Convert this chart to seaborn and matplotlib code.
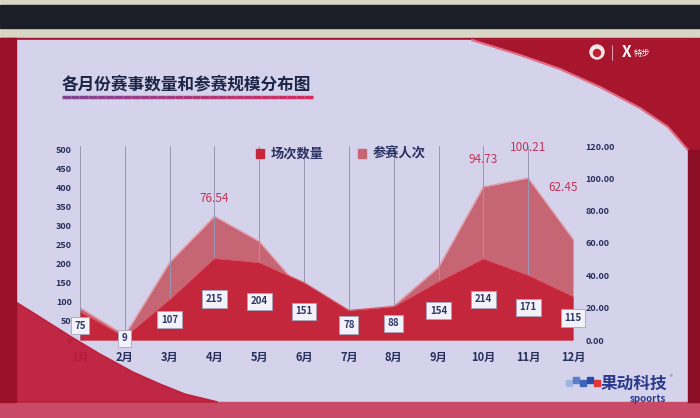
import numpy as np
import pandas as pd
import seaborn as sns
import matplotlib.pyplot as plt
from matplotlib.patches import Rectangle, Polygon, Circle, Patch

# data
months = ['1月', '2月', '3月', '4月', '5月', '6月', '7月', '8月', '9月', '10月', '11月', '12月']
event_counts = [75, 9, 107, 215, 204, 151, 78, 88, 154, 214, 171, 115]
participants = [20, 3, 48, 76.54, 61, 29, 18, 21, 45, 94.73, 100.21, 62.45]
labelled_months = ['4月', '10月', '11月', '12月']

navy = '#262f5c'
dark_red = '#c4263b'
light_red = '#c66574'

sns.set_theme(style='white')
plt.rcParams['font.family'] = ['Noto Sans CJK SC', 'DejaVu Sans']

fig = plt.figure(figsize=(7, 4.18), dpi=100)

# ---- slide / photo background (pixel coords) ----
bg = fig.add_axes([0, 0, 1, 1], zorder=-2)
bg.set_xlim(0, 700)
bg.set_ylim(418, 0)
bg.axis('off')
bg.add_patch(Rectangle((0, 0), 700, 40, color='#d9d6c6'))
bg.add_patch(Rectangle((0, 5), 700, 23, color='#1c1e27'))
bg.add_patch(Rectangle((0, 38), 700, 366, color='#a01230'))
bg.add_patch(Rectangle((16, 40), 672, 362, color='#d5d3ec'))
bg.add_patch(Rectangle((0, 402), 700, 16, color='#c94a66'))
swoosh_tr = [(472, 40), (520, 55), (560, 69), (600, 87), (640, 108), (668, 127), (688, 150),
             (700, 152), (700, 40)]
bg.add_patch(Polygon(swoosh_tr, closed=True, color='#a8162e'))
bg.plot([472, 520, 560, 600, 640, 668, 688], [40, 55, 69, 87, 108, 127, 150], color='#e07088', lw=1.5)
bg.add_patch(Circle((597, 52), 7, color='#f2e6e6'))
bg.add_patch(Circle((597, 53), 3.5, color='#c02030'))
bg.plot([612, 612], [45, 60], color='#e8c0c8', lw=0.6)
bg.text(622, 52, 'X', color='white', fontsize=11, fontweight='bold', style='italic', va='center')
bg.text(634, 53, '特步', color='white', fontsize=6, style='italic', va='center')

# title with gradient underline
bg.text(62, 84, '各月份赛事数量和参赛规模分布图', color='#1d2546', fontsize=12,
        fontweight='bold', va='center', ha='left')
xs = np.linspace(62, 313, 30)
c0, c1 = np.array([0.50, 0.27, 0.58]), np.array([0.84, 0.17, 0.38])
for k in range(len(xs) - 1):
    t = k / (len(xs) - 2)
    bg.plot(xs[k:k + 2], [97, 97], color=c0 * (1 - t) + c1 * t, lw=2.5, solid_capstyle='butt')

# ---- chart ----
df = pd.DataFrame({'month': months, 'x': range(len(months)),
                   'count': event_counts, 'people': participants})

ax1 = fig.add_axes([80 / 700, 78 / 418, 493 / 700, 194 / 418])
ax2 = ax1.twinx()
ax1.set_zorder(ax2.get_zorder() + 1)
ax1.patch.set_visible(False)
ax2.patch.set_visible(False)

ax2.fill_between(df['x'], df['people'], color=light_red, lw=0)
sns.lineplot(data=df, x='x', y='people', ax=ax2, color='#e4a0ad', lw=1)
ax1.fill_between(df['x'], df['count'], color=dark_red, lw=0)
sns.lineplot(data=df, x='x', y='count', ax=ax1, color='#d85a6a', lw=0.8)

ax1.set_xlim(0, 11)
ax1.set_ylim(0, 510)
ax2.set_ylim(0, 120)
ax1.set_xlabel('')
ax1.set_ylabel('')
ax2.set_ylabel('')
ax1.set_xticks(df['x'], months)
ax1.set_yticks(range(0, 501, 50))
ax2.set_yticks(range(0, 121, 20))
ax2.yaxis.set_major_formatter('{x:.2f}')
ax1.tick_params(axis='x', length=0, pad=8, labelsize=8, labelcolor=navy)
ax1.tick_params(axis='y', length=0, pad=6, labelsize=6.5, labelcolor=navy)
ax2.tick_params(axis='y', length=0, pad=9, labelsize=6.5, labelcolor=navy)
for lab in ax1.get_xticklabels() + ax1.get_yticklabels() + ax2.get_yticklabels():
    lab.set_fontweight('bold')
for ax in (ax1, ax2):
    for s in ax.spines.values():
        s.set_visible(False)
ax1.set_axisbelow(True)
ax1.xaxis.grid(True, color='#9896b2', lw=0.7)
ax1.yaxis.grid(False)
ax2.grid(False)

# count labels in the middle of the dark area
for i, v in enumerate(df['count']):
    ax1.text(i, v / 2, str(v), ha='center', va='center', fontsize=7, fontweight='bold',
             color='#2e3866', zorder=5,
             bbox=dict(boxstyle='square,pad=0.38', fc='#f3f2fa', ec='#a6a6bc', lw=0.6))

# participant labels
offsets = {'4月': (0, 13), '10月': (0, 20), '11月': (0, 22), '12月': (-7, 37)}
for m in labelled_months:
    row = df[df['month'] == m].iloc[0]
    ax2.annotate(f"{row['people']:.2f}", (row['x'], row['people']), xytext=offsets[m],
                 textcoords='offset points', ha='center', va='center',
                 fontsize=8.5, color='#c23358')

fig.legend(handles=[Patch(color=dark_red, label='场次数量'), Patch(color=light_red, label='参赛人次')],
           loc='center', bbox_to_anchor=(341 / 700, 1 - 154 / 418), ncol=2, frameon=False,
           handlelength=0.6, handleheight=0.6, handletextpad=0.5, columnspacing=2.6,
           prop=dict(size=9.5, weight='bold'), labelcolor='#2b3160')

# ---- foreground decoration ----
fg = fig.add_axes([0, 0, 1, 1], zorder=5)
fg.set_xlim(0, 700)
fg.set_ylim(418, 0)
fg.axis('off')
fg.patch.set_visible(False)
swoosh_bl = [(0, 290), (16, 302), (40, 317), (70, 336), (100, 354), (133, 372), (160, 384),
             (185, 394), (218, 402), (0, 402)]
fg.add_patch(Polygon(swoosh_bl, closed=True, color='#bf1a38', alpha=0.93))
fg.add_patch(Rectangle((0, 38), 16, 364, color='#9a1028'))
fg.add_patch(Rectangle((688, 150), 12, 252, color='#8c0e26'))

for j, (px, col) in enumerate([(566, '#9fb4e0'), (573, '#5b7ec8'), (580, '#3c64b8'),
                               (587, '#2a4aa8'), (594, '#e03838')]):
    fg.add_patch(Rectangle((px, 380 - (j % 2) * 3), 6, 6, color=col))
fg.text(601, 384, '果动科技', color='#2a3a8c', fontsize=12, fontweight='bold',
        style='italic', va='center', ha='left')
fg.text(670, 378, '®', color='#2a3a8c', fontsize=4, va='center')
fg.text(648, 399, 'spoorts', color='#2a3a8c', fontsize=7, fontweight='bold',
        style='italic', va='center', ha='center')

fig.savefig('out.png', dpi=100)
